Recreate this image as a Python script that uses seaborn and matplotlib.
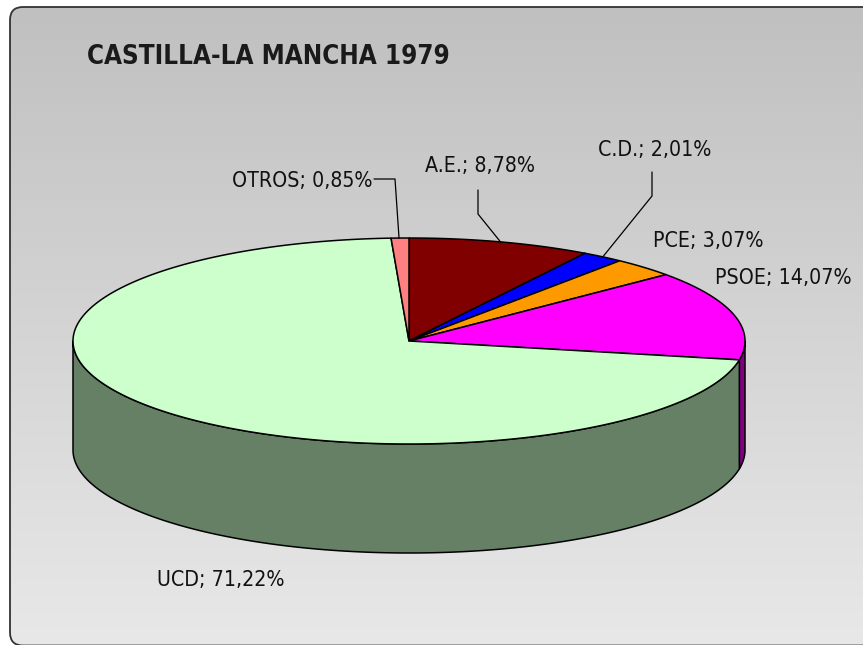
import numpy as np
import matplotlib
matplotlib.use("Agg")
import matplotlib.pyplot as plt
from matplotlib.patches import Polygon, FancyBboxPatch
import seaborn as sns

# ---- data ----
parties = ["A.E.", "C.D.", "PCE", "PSOE", "UCD", "OTROS"]
shares = [8.78, 2.01, 3.07, 14.07, 71.22, 0.85]
labels = ["A.E.; 8,78%", "C.D.; 2,01%", "PCE; 3,07%", "PSOE; 14,07%", "UCD; 71,22%", "OTROS; 0,85%"]
title = "CASTILLA-LA MANCHA 1979"
top_colors = ["#800000", "#0000FF", "#FF9900", "#FF00FF", "#CCFFCC", "#FF8080"]
side_colors = ["#400000", "#000080", "#804C00", "#800080", "#668066", "#804040"]

sns.set_style("white")
plt.rcParams["font.family"] = ["DejaVu Sans", "Liberation Sans"]

W, H = 863, 645
fig = plt.figure(figsize=(W / 100, H / 100), dpi=100)
fig.patch.set_facecolor("white")
ax = fig.add_axes([0, 0, 1, 1])
ax.set_xlim(0, W)
ax.set_ylim(H, 0)
ax.axis("off")

# background panel with gradient
panel = FancyBboxPatch((10, 7), 880, 638.5, boxstyle="round,pad=0,rounding_size=13",
                       facecolor="none", edgecolor="#333333", linewidth=1.3, zorder=2)
ax.add_patch(panel)
g = np.linspace(192, 232, 300) / 255.0
grad = np.repeat(g[:, None], 2, axis=1)
img = ax.imshow(np.dstack([grad, grad, grad]), extent=[10, 890, 645.5, 7], origin="upper",
                aspect="auto", zorder=1, interpolation="bilinear")
img.set_clip_path(panel)
ax.set_xlim(0, W)
ax.set_ylim(H, 0)

# pie geometry
cx, cy, rx, ry, depth = 409, 341, 336, 103, 109

def pt(theta, dy=0.0):
    t = np.radians(theta)
    return cx + rx * np.sin(t), cy - ry * np.cos(t) + dy

cum = np.concatenate([[0], np.cumsum(shares)]) / sum(shares) * 360.0

# sides (front visible between 90 and 270 degrees clockwise from top)
for i in range(len(shares)):
    a, b = cum[i], cum[i + 1]
    s, e = max(a, 90), min(b, 270)
    if e <= s:
        continue
    th = np.linspace(s, e, 200)
    topx, topy = pt(th)
    botx, boty = pt(th, depth)
    poly = np.column_stack([np.concatenate([topx, botx[::-1]]),
                            np.concatenate([topy, boty[::-1]])])
    ax.add_patch(Polygon(poly, closed=True, facecolor=side_colors[i],
                         edgecolor="black", linewidth=1.1, zorder=3, joinstyle="round"))

# tops
for i in range(len(shares)):
    a, b = cum[i], cum[i + 1]
    th = np.linspace(a, b, max(10, int((b - a) * 3)))
    x, y = pt(th)
    poly = np.column_stack([np.concatenate([[cx], x]), np.concatenate([[cy], y])])
    ax.add_patch(Polygon(poly, closed=True, facecolor=top_colors[i],
                         edgecolor="black", linewidth=1.1, zorder=4, joinstyle="round"))

# labels
fs = 15.3
label_pos = {
    "A.E.": (425, 166, "left"),
    "C.D.": (598, 150, "left"),
    "PCE": (653, 241, "left"),
    "PSOE": (715, 278, "left"),
    "UCD": (157, 580, "left"),
    "OTROS": (372, 181, "right"),
}
for i, p in enumerate(parties):
    x, y, ha = label_pos[p]
    ax.text(x, y, labels[i], ha=ha, va="center", fontsize=fs, fontstretch="condensed",
            color="#111111", zorder=6)

mid = (cum[:-1] + cum[1:]) / 2
# leader lines
lx, ly = pt(mid[parties.index("OTROS")])
ax.plot([374, 395, lx - 1, ], [179, 179, ly], color="black", lw=0.9, zorder=5)
lx, ly = pt(mid[parties.index("A.E.")])
ax.plot([478, 478, lx], [190, 214, ly], color="black", lw=0.9, zorder=5)
lx, ly = pt(mid[parties.index("C.D.")])
ax.plot([652, 652, lx], [172, 196, ly], color="black", lw=0.9, zorder=5)

ax.text(87, 57, title, ha="left", va="center", fontsize=18.6, fontweight="bold",
        fontstretch="condensed", color="#1a1a1a", zorder=6)

fig.savefig("out.png", dpi=100, facecolor="white")
